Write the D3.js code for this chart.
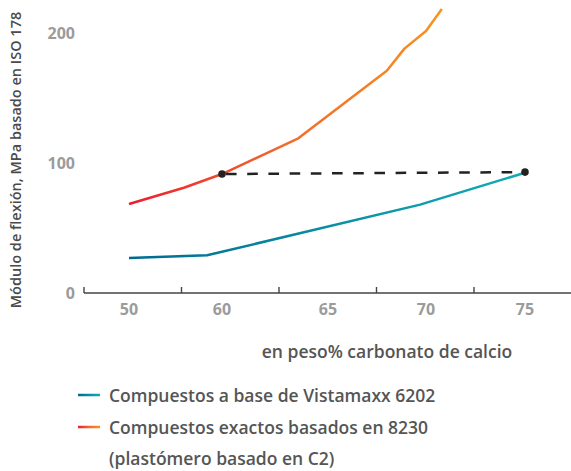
<!DOCTYPE html>
<meta charset="utf-8">
<style>
body { margin: 0; background: #fff; }
svg { font-family: "Open Sans", "Noto Sans", sans-serif; }
.tick-label { font-weight: 700; font-size: 16px; fill: #9b9b9b; }
.axis-title { font-weight: 600; fill: #4a4a4a; }
.legend text { font-weight: 600; font-size: 17.5px; fill: #555; }
</style>
<body>
<script src="https://d3js.org/d3.v7.min.js"></script>
<script>
// categorias del eje x y valores del eje y
const xCats = [50, 60, 65, 70, 75];
const yTicks = [0, 100, 200];

// Compuestos a base de Vistamaxx 6202
const vistamaxx = [[50, 27], [58.4, 29], [69.7, 68], [75, 92.5]];
// Compuestos exactos basados en 8230
const exact = [[50, 68.5], [55.9, 81], [60, 91.5], [63.6, 119], [68, 171], [68.9, 188], [70, 201.5], [70.8, 218.5]];
// linea de igual rigidez
const equal = [[60, 91.5], [75, 93]];

const width = 571, height = 471;
const svg = d3.select('body').append('svg')
  .attr('width', width)
  .attr('height', height);

const band = d3.scaleBand().domain(xCats).range([84, 571.5]);
const x = d3.scaleLinear().domain(xCats).range([129, 222, 328, 426, 525]);
const y = d3.scaleLinear().domain([0, 220]).range([293, 7]);

const defs = svg.append('defs');
function grad(id, c0, c1, c2, x0, x1) {
  const g = defs.append('linearGradient').attr('id', id)
    .attr('gradientUnits', 'userSpaceOnUse')
    .attr('x1', x0).attr('x2', x1).attr('y1', 0).attr('y2', 0);
  g.append('stop').attr('offset', '0%').attr('stop-color', c0);
  g.append('stop').attr('offset', '50%').attr('stop-color', c1);
  g.append('stop').attr('offset', '100%').attr('stop-color', c2);
}
grad('gTeal', '#006a90', '#0a8ea3', '#12abb4', x(50), x(75));
grad('gOrange', '#ec1c2e', '#f26a2c', '#f7941d', x(50), x(70.8));
grad('lTeal', '#006a90', '#0a8ea3', '#12abb4', 78, 100);
grad('lOrange', '#ec1c2e', '#f26a2c', '#f7941d', 78, 100);

// eje x
svg.append('line')
  .attr('x1', 84).attr('x2', 571)
  .attr('y1', y(0)).attr('y2', y(0))
  .attr('stroke', '#444').attr('stroke-width', 1.4);
svg.selectAll('.xtick').data(xCats).enter().append('line')
  .attr('class', 'xtick')
  .attr('x1', d => band(d)).attr('x2', d => band(d))
  .attr('y1', y(0)).attr('y2', y(0) - 6)
  .attr('stroke', '#444').attr('stroke-width', 1.4);
svg.selectAll('.xlab').data(xCats).enter().append('text')
  .attr('class', 'tick-label xlab')
  .attr('x', d => x(d)).attr('y', 315)
  .attr('text-anchor', 'middle')
  .text(d => d);

// eje y
svg.selectAll('.ylab').data(yTicks).enter().append('text')
  .attr('class', 'tick-label ylab')
  .attr('x', 75).attr('y', d => y(d) + 6)
  .attr('text-anchor', 'end')
  .text(d => d);

svg.append('text')
  .attr('class', 'axis-title')
  .attr('transform', 'translate(21,160) rotate(-90)')
  .attr('text-anchor', 'middle')
  .style('font-size', '14.5px')
  .text('Módulo de flexión, MPa basado en ISO 178');

svg.append('text')
  .attr('class', 'axis-title')
  .attr('x', 387).attr('y', 358)
  .attr('text-anchor', 'middle')
  .style('font-size', '17.5px')
  .style('fill', '#555')
  .text('en peso% carbonato de calcio');

const line = d3.line().x(d => x(d[0])).y(d => y(d[1]));

svg.append('path').datum(vistamaxx)
  .attr('d', line).attr('fill', 'none')
  .attr('stroke', 'url(#gTeal)').attr('stroke-width', 2.5);

svg.append('path').datum(exact)
  .attr('d', line).attr('fill', 'none')
  .attr('stroke', 'url(#gOrange)').attr('stroke-width', 2.5)
  .attr('stroke-linejoin', 'round');

svg.append('path').datum(equal)
  .attr('d', line).attr('fill', 'none')
  .attr('stroke', '#222').attr('stroke-width', 2.5)
  .attr('stroke-dasharray', '10.6,10.6')
  .attr('stroke-dashoffset', -4);

svg.selectAll('.dot').data(equal).enter().append('circle')
  .attr('class', 'dot')
  .attr('cx', d => x(d[0])).attr('cy', d => y(d[1]))
  .attr('r', 3.8).attr('fill', '#222');

// leyenda
const legend = svg.append('g').attr('class', 'legend');
const items = [
  {c: 'url(#lTeal)', t: ['Compuestos a base de Vistamaxx 6202'], yy: 395},
  {c: 'url(#lOrange)', t: ['Compuestos exactos basados en 8230', '(plastómero basado en C2)'], yy: 427}
];
items.forEach(function (it) {
  legend.append('line')
    .attr('x1', 78).attr('x2', 100)
    .attr('y1', it.yy).attr('y2', it.yy)
    .attr('stroke', it.c).attr('stroke-width', 2.5);
  it.t.forEach(function (s, i) {
    legend.append('text')
      .attr('x', 109).attr('y', it.yy + 6.5 + i * 31.5)
      .text(s);
  });
});
</script>
</body>
